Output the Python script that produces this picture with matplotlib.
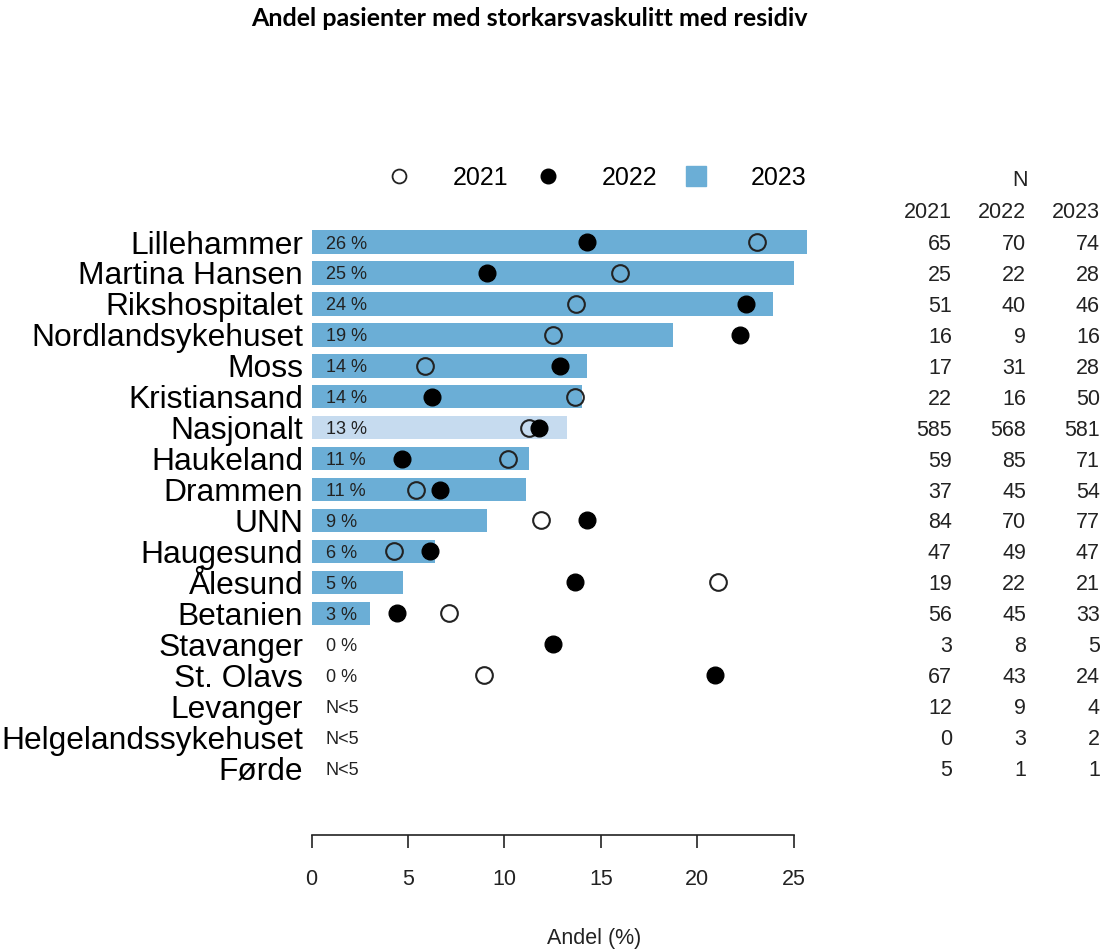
import numpy as np
import matplotlib
matplotlib.use("Agg")
import matplotlib.pyplot as plt
from matplotlib.lines import Line2D
from matplotlib.transforms import blended_transform_factory

# ---------------- data ----------------
units = ["Lillehammer", "Martina Hansen", "Rikshospitalet", "Nordlandsykehuset",
         "Moss", "Kristiansand", "Nasjonalt", "Haukeland", "Drammen", "UNN",
         "Haugesund", "Ålesund", "Betanien", "Stavanger", "St. Olavs",
         "Levanger", "Helgelandssykehuset", "Førde"]

nan = np.nan
pct2023 = [25.68, 25.00, 23.91, 18.75, 14.29, 14.00, 13.25, 11.27, 11.11, 9.09,
           6.38, 4.76, 3.03, 0.0, 0.0, nan, nan, nan]
pct2022 = [14.29, 9.09, 22.50, 22.22, 12.90, 6.25, 11.80, 4.71, 6.67, 14.29,
           6.12, 13.64, 4.44, 12.50, 20.93, nan, nan, nan]
pct2021 = [23.08, 16.00, 13.73, 12.50, 5.88, 13.64, 11.28, 10.17, 5.41, 11.90,
           4.26, 21.05, 7.14, nan, 8.96, nan, nan, nan]

bar_labels = ["26 %", "25 %", "24 %", "19 %", "14 %", "14 %", "13 %", "11 %",
              "11 %", "9 %", "6 %", "5 %", "3 %", "0 %", "0 %", "N<5", "N<5", "N<5"]

n2021 = [65, 25, 51, 16, 17, 22, 585, 59, 37, 84, 47, 19, 56, 3, 67, 12, 0, 5]
n2022 = [70, 22, 40, 9, 31, 16, 568, 85, 45, 70, 49, 22, 45, 8, 43, 9, 3, 1]
n2023 = [74, 28, 46, 16, 28, 50, 581, 71, 54, 77, 47, 21, 33, 5, 24, 4, 2, 1]

years = ["2021", "2022", "2023"]
x_ticks = [0, 5, 10, 15, 20, 25]

title = "Andel pasienter med storkarsvaskulitt med residiv"
xlabel = "Andel (%)"

# ---------------- style ----------------
W, H = 1106, 952
plt.rcParams["font.family"] = ["Liberation Sans", "DejaVu Sans"]
BAR = "#6BAED6"
BAR_NAT = "#C6DBEF"

fig = plt.figure(figsize=(W / 100, H / 100), dpi=100)

left_px, right_px = 311.5, 876.7
top_px, bot_px = 215, 835
ax = fig.add_axes([left_px / W, 1 - bot_px / H, (right_px - left_px) / W,
                   (bot_px - top_px) / H])

n = len(units)
ypos = np.arange(n)[::-1].astype(float)  # first unit at top

colors = [BAR_NAT if u == "Nasjonalt" else BAR for u in units]
vals = np.nan_to_num(np.array(pct2023, dtype=float))
ax.barh(ypos, vals, height=0.76, color=colors, edgecolor="none", zorder=1)

ax.plot(pct2021, ypos, linestyle="none", marker="o", ms=12, mfc="none",
        mec="#222222", mew=1.5, zorder=3)
ax.plot(pct2022, ypos, linestyle="none", marker="o", ms=12, mfc="black",
        mec="black", mew=1, zorder=4)

for y, lab in zip(ypos, bar_labels):
    ax.text(0.75, y, lab, ha="left", va="center_baseline", fontsize=13,
            color="#222222", zorder=5)

ax.set_xlim(0, 29.3)
ax.set_ylim(-2.165, 17.873)

ax.set_yticks(ypos)
ax.set_yticklabels(units, fontsize=22.9)
ax.tick_params(axis="y", length=0, pad=6)
for t in ax.get_yticklabels():
    t.set_verticalalignment("center_baseline")

for s in ["top", "right", "left"]:
    ax.spines[s].set_visible(False)
ax.spines["bottom"].set_bounds(0, 25)
ax.spines["bottom"].set_color("#222222")
ax.spines["bottom"].set_linewidth(1.2)
ax.set_xticks(x_ticks)
ax.set_xticklabels([str(v) for v in x_ticks], fontsize=15.5, color="#222222")
ax.tick_params(axis="x", length=9.4, width=1.2, color="#222222", pad=15)

ax.set_xlabel(xlabel, fontsize=15.5, color="#222222")
ax.xaxis.set_label_coords(0.5, -0.150)

# N table
tr = blended_transform_factory(fig.transFigure, ax.transData)
col_x = [952, 1026, 1100]
fig.text(1020 / W, 1 - 180 / H, "N", ha="center", va="center", fontsize=15.5,
         color="#222222")
for cx, yr in zip(col_x, years):
    fig.text(cx / W, 1 - 212 / H, yr, ha="right", va="center", fontsize=15.5,
             color="#222222")
for cx, col in zip(col_x, [n2021, n2022, n2023]):
    for y, v in zip(ypos, col):
        ax.text(cx / W, y, str(v), transform=tr, ha="right",
                va="center_baseline", fontsize=15.5, color="#222222",
                clip_on=False)

# legend
handles = [
    Line2D([], [], linestyle="none", marker="o", ms=10, mfc="none",
           mec="#222222", mew=1.3),
    Line2D([], [], linestyle="none", marker="o", ms=10.5, mfc="black",
           mec="black"),
    Line2D([], [], linestyle="none", marker="s", ms=14.5, mfc=BAR, mec=BAR),
]
fig.legend(handles, years, loc="center", ncol=3, frameon=False,
           bbox_to_anchor=(590 / W, 1 - 178 / H), bbox_transform=fig.transFigure,
           fontsize=18, handlelength=2, handletextpad=1.16, columnspacing=0.56,
           borderpad=0, borderaxespad=0)

fig.text(529 / W, 1 - 18 / H, title, ha="center", va="center",
         fontsize=18, fontweight="bold", family=["Lato", "DejaVu Sans"])

fig.savefig("out.png", dpi=100)
